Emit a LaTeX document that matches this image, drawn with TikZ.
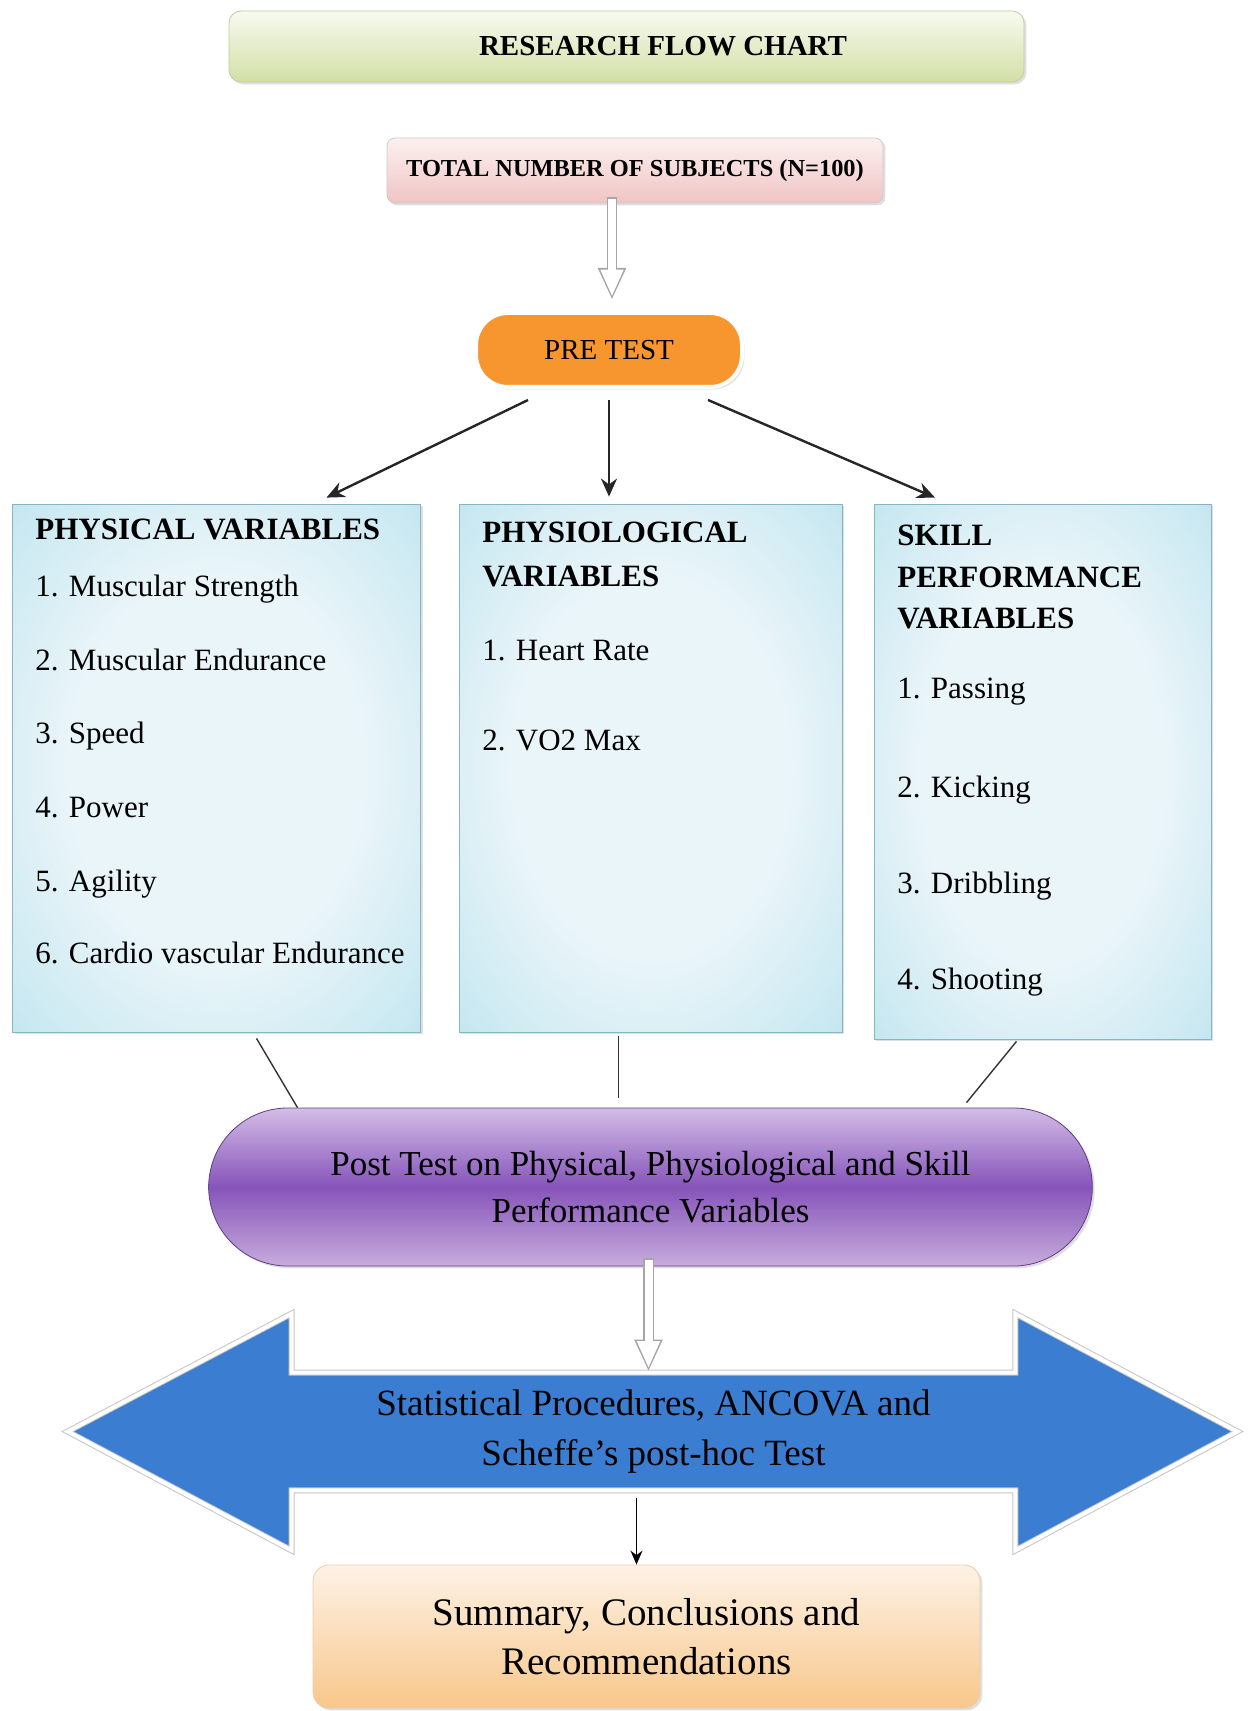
\documentclass[tikz,border=0pt]{standalone}
\usepackage{fontspec}
\setmainfont{Liberation Serif}
\usetikzlibrary{arrows.meta,shapes.misc,shadows,calc,backgrounds}
\definecolor{titlegreen}{HTML}{D2DFA6}
\definecolor{titlelight}{HTML}{F8FAF0}
\definecolor{totalpink}{HTML}{F0C4C4}
\definecolor{totallight}{HTML}{FCF0F0}
\definecolor{preorange}{HTML}{F7962F}
\definecolor{varlight}{HTML}{EAF5F9}
\definecolor{varmid}{HTML}{C8E8F1}
\definecolor{varblue}{HTML}{8ACEE0}
\definecolor{postlight}{HTML}{D3BDE6}
\definecolor{postmid}{HTML}{8654BA}
\definecolor{postpale}{HTML}{C7ACDC}
\definecolor{postdark}{HTML}{5E3D86}
\definecolor{statblue}{HTML}{3A7DD1}
\definecolor{sumlight}{HTML}{FDF2E6}
\definecolor{sumorange}{HTML}{F8C78A}
\definecolor{sumedge}{HTML}{E8CFB0}
\pgfdeclareradialshading{varshade}{\pgfpoint{0bp}{0bp}}{color(0bp)=(varlight); color(18bp)=(varlight); color(34bp)=(varmid); color(50bp)=(varblue); color(72bp)=(varblue)}

\tikzset{
  softshadow/.style={drop shadow={shadow xshift=1.2pt,shadow yshift=-1.2pt,opacity=0.25}},
  titlebox/.style={rectangle,rounded corners=6pt,minimum width=397.5pt,minimum height=35.5pt,
    top color=titlelight,bottom color=titlegreen,draw=titlegreen!80!gray,softshadow},
  titletext/.style={font=\bfseries\fontsize{14.5}{17}\selectfont},
  totalbox/.style={rectangle,rounded corners=4pt,minimum width=248pt,minimum height=32.5pt,
    top color=totallight,bottom color=totalpink,draw=gray!40,softshadow,
    font=\bfseries\fontsize{12.2}{14}\selectfont},
  prebox/.style={rectangle,rounded corners=16pt,minimum width=133pt,minimum height=37pt,
    fill=preorange,draw=white,line width=2pt,softshadow,font=\fontsize{14.5}{17}\selectfont},
  varbox/.style={rectangle,minimum height=264pt,shading=varshade,draw=varblue!70!gray,softshadow},
  varhead/.style={anchor=base west,inner sep=0pt,font=\bfseries\fontsize{15.5}{18}\selectfont},
  varitem/.style={anchor=base west,inner sep=0pt,font=\fontsize{15.5}{18}\selectfont},
  postbox/.style={rounded rectangle,minimum width=448.5pt,minimum height=79pt,
    top color=postlight,bottom color=postpale,middle color=postmid,draw=postdark,softshadow,
    align=center,font=\fontsize{17.5}{23.5}\selectfont},
  statbox/.style={rectangle,minimum width=361.5pt,minimum height=58.5pt,inner sep=0pt,
    align=center,font=\fontsize{18.5}{25}\selectfont},
  statarrow/.style={fill=statblue,draw=gray!45,double=white,double distance=2pt,line width=0.5pt},
  sumbox/.style={rectangle,rounded corners=8pt,minimum width=333.5pt,minimum height=71.5pt,
    top color=sumlight,bottom color=sumorange,draw=sumedge,softshadow,
    align=center,font=\fontsize{19.5}{24.5}\selectfont},
  hollow/.style={gray!70,line width=5.2pt,-{Triangle[length=16pt,width=13pt]},
    postaction={draw=white,line width=4pt,shorten >=1.6pt,shorten <=0.6pt,-{Triangle[length=13.6pt,width=10.6pt]}}},
  prearrow/.style={black!85,line width=1.2pt,-{Stealth[length=9pt,width=8pt]}},
  joinline/.style={black!80,line width=0.7pt},
  sumarrow/.style={black,line width=0.8pt,-{Stealth[length=7pt,width=6pt]}}
}

\begin{document}
\begin{tikzpicture}[x=0.5pt,y=-0.5pt]
  \useasboundingbox (0,0) rectangle (1255,1711);

  % top of the chart
  \node[titlebox] (title) at (626.5,46.5) {};
  \node[titletext] (titletxt) at (663,46) {RESEARCH FLOW CHART};
  \node[totalbox] (total) at (635,170.5) {TOTAL NUMBER OF SUBJECTS (N=100)};
  \node[prebox] (pre) at (609,350) {PRE TEST};

  % three groups of variables
  \node[varbox,minimum width=204pt] (phys) at (216.5,768) {};
  \node[varhead] (physhead) at (35,539) {PHYSICAL VARIABLES};
  \node[varitem] (phys1) at (35,596) {1. Muscular Strength};
  \node[varitem] (phys2) at (35,670) {2. Muscular Endurance};
  \node[varitem] (phys3) at (35,743) {3. Speed};
  \node[varitem] (phys4) at (35,817) {4. Power};
  \node[varitem] (phys5) at (35,891) {5. Agility};
  \node[varitem] (phys6) at (35,963) {6. Cardio vascular Endurance};

  \node[varbox,minimum width=191.5pt] (physio) at (650.5,768) {};
  \node[varhead] (physiohead) at (482,542) {PHYSIOLOGICAL};
  \node[varhead] (physiohead2) at (482,586) {VARIABLES};
  \node[varitem] (physio1) at (482,660) {1. Heart Rate};
  \node[varitem] (physio2) at (482,750) {2. VO2 Max};

  \node[varbox,minimum width=168.5pt,minimum height=267.5pt] (skill) at (1042.5,771.5) {};
  \node[varhead] (skillhead) at (897,545) {SKILL};
  \node[varhead] (skillhead2) at (897,587) {PERFORMANCE};
  \node[varhead] (skillhead3) at (897,628) {VARIABLES};
  \node[varitem] (skill1) at (897,698) {1. Passing};
  \node[varitem] (skill2) at (897,797) {2. Kicking};
  \node[varitem] (skill3) at (897,893) {3. Dribbling};
  \node[varitem] (skill4) at (897,989) {4. Shooting};

  % bottom of the chart
  \node[postbox] (post) at (650.5,1187) {Post Test on Physical, Physiological and Skill\\Performance Variables};
  \node[statbox] (stat) at (653.5,1431.5) {Statistical Procedures, ANCOVA and\\Scheffe’s post-hoc Test};
  \node[sumbox] (sum) at (646.5,1636.5) {Summary, Conclusions and\\Recommendations};

  \begin{scope}[on background layer]
    \fill[white] (0,0) rectangle (1255,1711);
    \draw[statarrow] (stat.north west) -- ++(0,-59) -- ($(stat.west)+(-224,0)$)
      -- ($(stat.south west)+(0,60)$) -- (stat.south west) -- (stat.south east)
      -- ++(0,60) -- ($(stat.east)+(222,0)$) -- ($(stat.north east)+(0,-59)$)
      -- (stat.north east) -- cycle;
  \end{scope}

  % connectors
  \draw[hollow] ($(total.south)+(-23,-6)$) -- ($(pre.north)+(3,-11)$);
  \draw[prearrow] ($(pre.south)+(-81,11)$) -- ($(phys.north)+(110,-6)$);
  \draw[prearrow] ($(pre.south)+(0,11)$) -- ($(physio.north)+(-41.5,-7)$);
  \draw[prearrow] ($(pre.south)+(99,11)$) -- ($(skill.north)+(-107.5,-6)$);
  \draw[joinline] ($(phys.south)+(40,6)$) -- ($(post.north)+(-353,0)$);
  \draw[joinline] ($(physio.south)+(-32,4)$) -- ($(post.north)+(-32,-10)$);
  \draw[joinline] ($(skill.south)+(-26,2)$) -- ($(post.north)+(316,-5)$);
  \draw[hollow] ($(post.south)+(-2,-8)$) -- ($(stat.north)+(-5,-1)$);
  \draw[sumarrow] ($(stat.south)+(-17,8)$) -- ($(sum.north)+(-10,0)$);
\end{tikzpicture}
\end{document}
